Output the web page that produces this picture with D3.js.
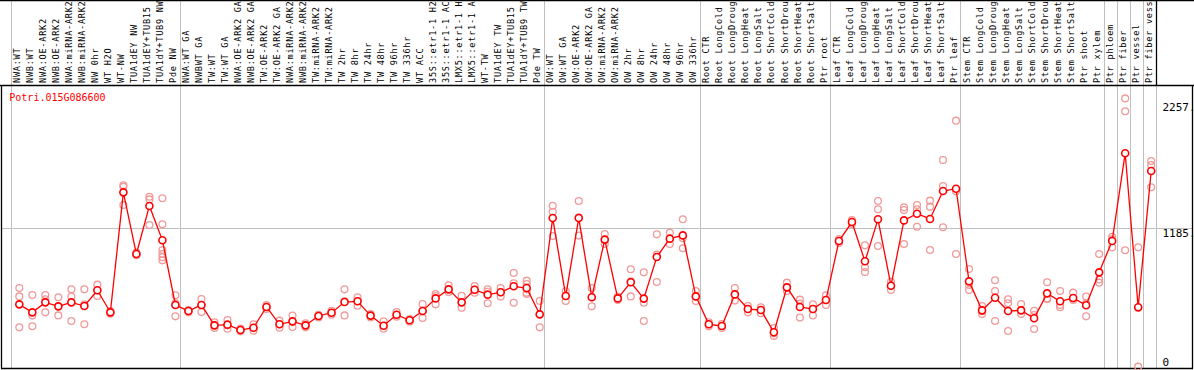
<!DOCTYPE html>
<html>
<head>
<meta charset="utf-8">
<script src="https://cdn.jsdelivr.net/npm/d3@7"></script>
<style>
body { margin: 0; background: #fff; }
svg { display: block; }
</style>
</head>
<body>
<div class="chart"></div>
<script>
// gene id shown in the corner
var geneId = 'Potri.015G086600';

// sample names, one per column
var samples = [
	'NWA:WT', 'NWB:WT', 'NWA:OE-ARK2', 'NWB:OE-ARK2', 'NWA:miRNA-ARK2', 'NWB:miRNA-ARK2', 'NW 0hr', 'WT H2O', 'WT-NW',
	'TUA1dEY NW', 'TUA1dEY+TUB15 NW', 'TUA1dY+TUB9 NW', 'Pde NW',
	'NWA:WT GA', 'NWBWT GA', 'TW:WT', 'TW:WT GA', 'NWA:OE-ARK2 GA', 'NWB:OE-ARK2 GA', 'TW:OE-ARK2', 'TW:OE-ARK2 GA',
	'NWA:miRNA-ARK2', 'NWB:miRNA-ARK2', 'TW:miRNA-ARK2', 'TW:miRNA-ARK2', 'TW 2hr', 'TW 8hr', 'TW 24hr', 'TW 48hr',
	'TW 96hr', 'TW 336hr', 'WT ACC', '35S::etr1-1 H2O', '35S::etr1-1 ACC', 'LMX5::etr1-1 H2O', 'LMX5::etr1-1 ACC',
	'WT-TW', 'TUA1dEY TW', 'TUA1dEY+TUB15 TW', 'TUA1dY+TUB9 TW', 'Pde TW',
	'OW:WT', 'OW:WT GA', 'OW:OE-ARK2', 'OW:OE-ARK2 GA', 'OW:miRNA-ARK2', 'OW:miRNA-ARK2', 'OW 2hr', 'OW 8hr',
	'OW 24hr', 'OW 48hr', 'OW 96hr', 'OW 336hr',
	'Root CTR', 'Root LongCold', 'Root LongDrought', 'Root LongHeat', 'Root LongSalt', 'Root ShortCold',
	'Root ShortDrought', 'Root ShortHeat', 'Root ShortSalt', 'Ptr root',
	'Leaf CTR', 'Leaf LongCold', 'Leaf LongDrought', 'Leaf LongHeat', 'Leaf LongSalt', 'Leaf ShortCold',
	'Leaf ShortDrought', 'Leaf ShortHeat', 'Leaf ShortSalt', 'Ptr leaf',
	'Stem CTR', 'Stem LongCold', 'Stem LongDrought', 'Stem LongHeat', 'Stem LongSalt', 'Stem ShortCold',
	'Stem ShortDrought', 'Stem ShortHeat', 'Stem ShortSalt', 'Ptr shoot', 'Ptr xylem',
	'Ptr phloem', 'Ptr fiber', 'Ptr vessel', 'Ptr fiber vessel'
];

// column index where each group starts (plus the end)
var groupBreaks = [0, 13, 41, 53, 63, 73, 84, 85, 86, 87, 88];

// mean expression per sample
var means = [
	534, 466, 551, 517, 551, 520, 654, 466, 1489, 963, 1373, 1080, 529,
	477, 529, 355, 361, 315, 335, 512, 364, 389, 355, 435, 463, 554, 560, 438, 352, 446, 398, 477, 585, 662, 551,
	659, 617, 637, 688, 673, 449,
	1270, 605, 1270, 594, 1086, 585, 722, 583, 938, 1094, 1122, 602,
	364, 350, 619, 494, 486, 296, 679, 512, 494, 571,
	1074, 1236, 901, 1259, 693, 1250, 1307, 1262, 1500, 1520,
	730, 483, 591, 477, 483, 415, 628, 560, 588, 526, 807,
	1074, 1822, 509, 1671
];

// single replicates per sample
var replicates = [
	[673, 602, 338], [614, 438, 347], [614, 577, 466], [594, 517, 440], [662, 600, 392], [662, 534, 364],
	[702, 654, 605], [477, 466, 455], [1549, 1537, 1381], [975, 963, 952], [1452, 1429, 1211],
	[1438, 1216, 997, 963, 935, 909], [611, 543, 432],
	[486, 477, 466], [580, 529, 469], [381, 355, 332], [401, 355, 327], [327, 315, 304], [364, 335, 310],
	[529, 512, 494], [395, 364, 335], [438, 386, 341], [372, 355, 338], [446, 435, 423], [480, 463, 446],
	[662, 560, 440], [594, 563, 523], [452, 438, 423], [389, 352, 327], [469, 446, 429], [409, 398, 386],
	[537, 477, 418], [622, 605, 534], [696, 662, 639], [608, 551, 506], [691, 659, 634], [662, 642, 543],
	[673, 637, 600], [801, 713, 548], [736, 708, 662, 634, 622], [563, 446, 338],
	[1375, 1324, 1117], [645, 605, 563], [1415, 1276, 1120], [673, 594, 517], [1134, 1086, 1049], [600, 585, 571],
	[833, 730, 602], [807, 548, 392], [1131, 958, 725], [1145, 1094, 1049], [1259, 1097, 1012], [648, 602, 563],
	[381, 364, 347], [367, 350, 332], [673, 619, 566], [520, 494, 466], [509, 486, 458], [332, 287, 264],
	[719, 679, 648], [574, 540, 421], [534, 494, 440], [611, 571, 529],
	[1091, 1074, 1057], [1253, 1236, 1219], [1037, 850, 810], [1415, 1344, 1032], [727, 693, 656],
	[1361, 1338, 1049], [1381, 1344, 1196], [1418, 1367, 997], [1765, 1543, 1191], [2100, 1498, 963],
	[835, 699, 656], [520, 475, 452], [739, 648, 392], [577, 543, 307], [537, 486, 452], [480, 443, 324],
	[722, 585, 577], [648, 529, 509], [634, 585, 571], [600, 543, 432], [963, 747, 719],
	[1111, 1088, 1020], [2290, 2180, 995], [1020, 503, 3], [1756, 1722, 1532]
];

// y labels on the right, and the one with a grid line
var yLabels = [2257, 1185, 0];
var yGrid = [1185];

var width = 1194, height = 370;
var headerH = 85, plotBottom = 368.5;
var lineColor = '#ff0000', repColor = '#f09a9a', gridColor = '#c0c0c0';
var mono = "'DejaVu Sans Mono', 'Liberation Mono', monospace";

var svg = d3.select('.chart').append('svg')
			.attr('width', width)
			.attr('height', height);

var x = d3.scaleBand()
		.domain(d3.range(samples.length))
		.range([10.7, 1155.6])
		.paddingInner(0);
var px = function(i){ return x(i) + 8.6; };

var y = d3.scaleLinear()
		.domain([0, 1185])
		.range([367, 228]);

// vertical group separators
groupBreaks.forEach(function(k){
	var gx = Math.round(x(0) + x.step()*k) + 0.5;
	svg.append('line')
		.attr('x1', gx).attr('x2', gx)
		.attr('y1', 0).attr('y2', plotBottom)
		.attr('stroke', gridColor)
		.attr('stroke-width', 1);
});

// horizontal grid
yGrid.forEach(function(v){
	var gy = Math.round(y(v)) + 0.5;
	svg.append('line')
		.attr('x1', 1).attr('x2', 1193)
		.attr('y1', gy).attr('y2', gy)
		.attr('stroke', gridColor)
		.attr('stroke-width', 1);
});

// frame
var frame = [
	[0, 0.5, 1194, 0.5],
	[0, headerH + 0.5, 1194, headerH + 0.5],
	[1156.5, 0, 1156.5, headerH],
	[1.5, headerH, 1.5, plotBottom],
	[1192.5, headerH, 1192.5, plotBottom],
	[1, plotBottom, 1193, plotBottom]
];
frame.forEach(function(f){
	svg.append('line')
		.attr('x1', f[0]).attr('y1', f[1])
		.attr('x2', f[2]).attr('y2', f[3])
		.attr('stroke', '#000')
		.attr('stroke-width', 1.3);
});

// sample names, rotated
svg.append('g').selectAll('text')
	.data(samples)
	.enter().append('text')
	.attr('transform', function(d, i){ return 'translate(' + (px(i) + 0.6) + ',83) rotate(-90)'; })
	.attr('font-family', mono)
	.attr('font-size', 8.6)
	.attr('letter-spacing', 0.72)
	.attr('fill', '#000')
	.text(function(d){ return d; });

// replicates
var reps = [];
replicates.forEach(function(r, i){
	r.forEach(function(v){ reps.push({i: i, v: v}); });
});
svg.append('g').selectAll('circle')
	.data(reps)
	.enter().append('circle')
	.attr('cx', function(d){ return px(d.i); })
	.attr('cy', function(d){ return y(d.v); })
	.attr('r', 3.4)
	.attr('fill', 'none')
	.attr('stroke', repColor)
	.attr('stroke-width', 1.3);

// mean line
var line = d3.line()
		.x(function(d, i){ return px(i); })
		.y(function(d){ return y(d); });
svg.append('path')
	.datum(means)
	.attr('d', line)
	.attr('fill', 'none')
	.attr('stroke', lineColor)
	.attr('stroke-width', 1.3);

svg.append('g').selectAll('circle')
	.data(means)
	.enter().append('circle')
	.attr('cx', function(d, i){ return px(i); })
	.attr('cy', function(d){ return y(d); })
	.attr('r', 3.5)
	.attr('fill', '#fff')
	.attr('stroke', lineColor)
	.attr('stroke-width', 1.6);

// title
svg.append('text')
	.attr('x', 9.3)
	.attr('y', 100.5)
	.attr('font-family', mono)
	.attr('font-size', 10)
	.attr('fill', lineColor)
	.text(geneId);

// right side labels
yLabels.forEach(function(v){
	var ty = Math.min(y(v) + 9, 366);
	svg.append('text')
		.attr('x', 1162.5)
		.attr('y', ty)
		.attr('font-family', mono)
		.attr('font-size', 11)
		.attr('fill', '#000')
		.text(v == 0 ? '0' : v + '.');
});
</script>
</body>
</html>
